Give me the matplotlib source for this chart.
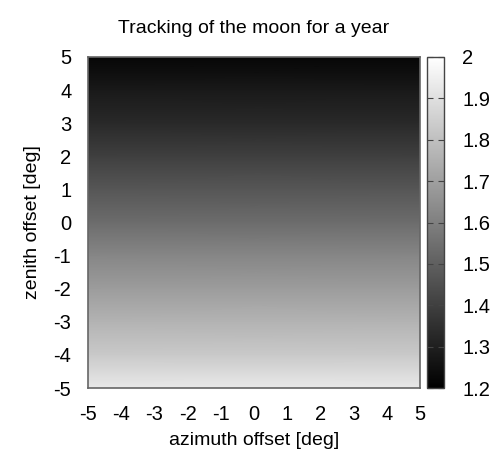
import numpy as np
import matplotlib
matplotlib.use("Agg")
import matplotlib.pyplot as plt

plt.rcParams['font.family'] = ['Liberation Sans', 'DejaVu Sans']

zenith = [5, 4, 3, 2, 1, 0, -1, -2, -3, -4, -5]
row_values = [1.22, 1.28, 1.33, 1.40, 1.47, 1.54, 1.62, 1.69, 1.76, 1.83, 1.93]
azimuth = [-5, 5]
ticks = [-5, -4, -3, -2, -1, 0, 1, 2, 3, 4, 5]
cb_ticks = [1.2, 1.3, 1.4, 1.5, 1.6, 1.7, 1.8, 1.9, 2.0]
cb_labels = ['1.2', '1.3', '1.4', '1.5', '1.6', '1.7', '1.8', '1.9', '2']

W, H = 501, 457
fig = plt.figure(figsize=(W / 100, H / 100), dpi=100)
ax = fig.add_axes([88 / W, 1 - 388 / H, 332 / W, 331 / H])
cax = fig.add_axes([427 / W, 1 - 388 / H, 17 / W, 331 / H])

X, Y = np.meshgrid(azimuth, zenith)
Z = np.repeat(np.array(row_values)[:, None], len(azimuth), axis=1)
mesh = ax.pcolormesh(X, Y, Z, shading='gouraud', cmap='gray', vmin=1.2, vmax=2.0)

ax.set_xlim(-5, 5)
ax.set_ylim(-5, 5)
ax.set_xticks(ticks)
ax.set_yticks(ticks)
ax.set_xticklabels([str(t) for t in ticks])
ax.set_yticklabels([str(t) for t in ticks])
ax.tick_params(length=0, labelsize=14.5, pad=12)
ax.tick_params(axis='y', pad=12)
for s in ax.spines.values():
    s.set_color('#666666')
    s.set_linewidth(1.2)

ax.set_title('Tracking of the moon for a year', fontsize=14, pad=17)
ax.set_xlabel('azimuth offset [deg]', fontsize=14, labelpad=6)
ax.set_ylabel('zenith offset [deg]', fontsize=14, labelpad=9)

cb = fig.colorbar(mesh, cax=cax, ticks=cb_ticks)
cb.set_ticklabels(cb_labels)
cax.tick_params(labelsize=14.5, direction='in', length=4, width=0.8,
                color='#444444', left=True, right=True, pad=13)
cb.outline.set_edgecolor('#444444')
cb.outline.set_linewidth(1.0)

fig.savefig('out.png', dpi=100)
